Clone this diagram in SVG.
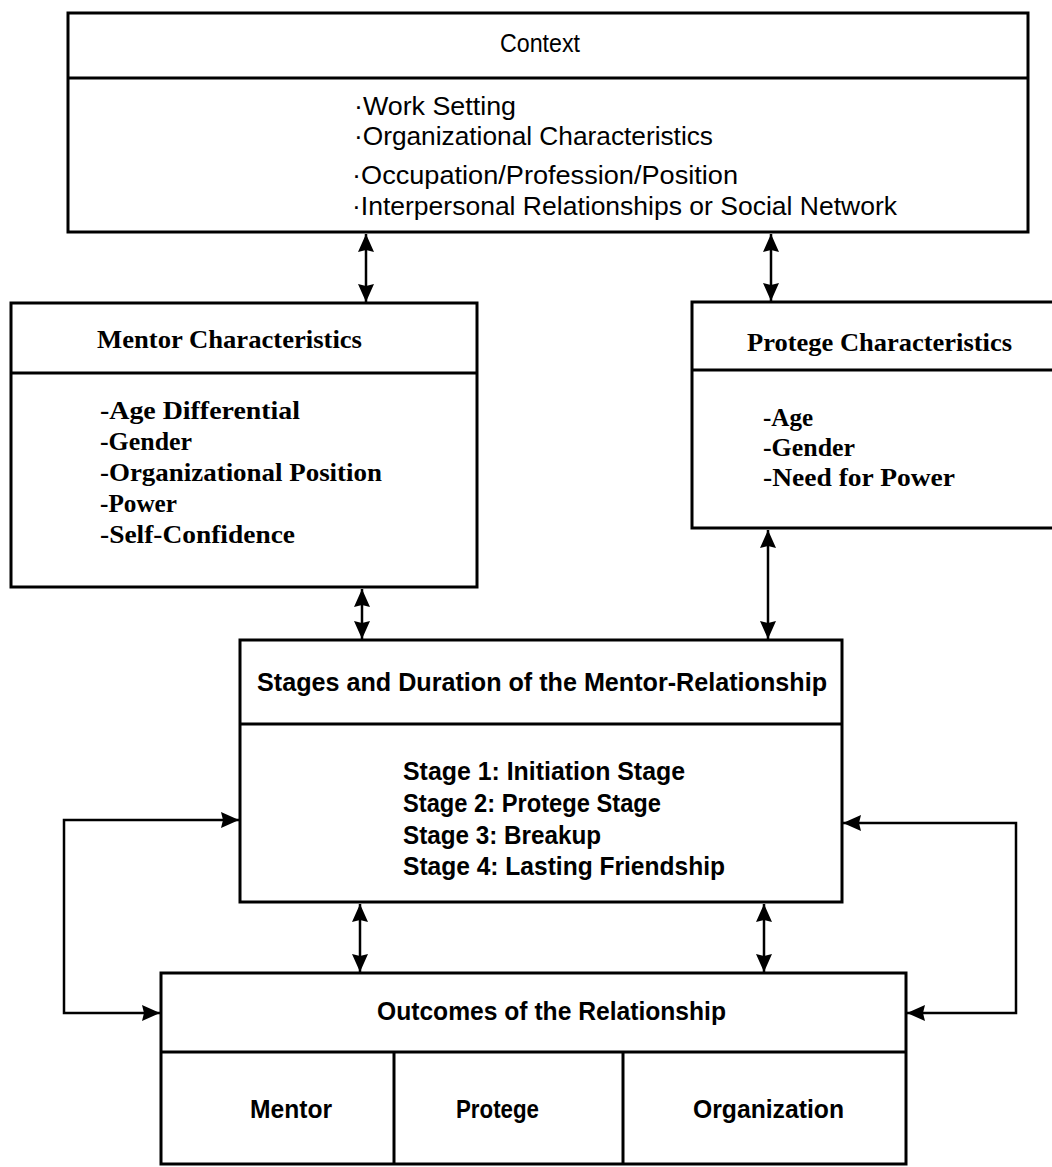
<svg xmlns="http://www.w3.org/2000/svg" width="1052" height="1167" viewBox="0 0 1052 1167">
<style>
.box{fill:none;stroke:#000;stroke-width:3}
.div{stroke:#000;stroke-width:3}
.con{fill:none;stroke:#000;stroke-width:2.5}
.sans{font-family:"Liberation Sans",Arial,sans-serif;font-size:25px;fill:#000}
.sb{font-weight:bold}
.serif{font-family:"Liberation Serif","Times New Roman",serif;font-size:25px;fill:#000;font-weight:bold}
</style>
<defs>
<marker id="ah" markerUnits="userSpaceOnUse" markerWidth="20" markerHeight="20" viewBox="0 0 20 20" refX="18" refY="10" orient="auto-start-reverse">
<path d="M0,2 L18,10 L0,18 L2,10 z" fill="#000"/>
</marker>
</defs>
<rect width="1052" height="1167" fill="#fff"/>

<g id="context">
<rect class="box" x="68" y="13" width="960" height="219"/>
<line class="div" x1="68" y1="78" x2="1028" y2="78"/>
<text class="sans" x="500" y="52" textLength="80" lengthAdjust="spacingAndGlyphs">Context</text>
<text class="sans" x="354" y="115" textLength="162" lengthAdjust="spacingAndGlyphs">·Work Setting</text>
<text class="sans" x="354" y="145" textLength="359" lengthAdjust="spacingAndGlyphs">·Organizational Characteristics</text>
<text class="sans" x="352" y="184" textLength="386" lengthAdjust="spacingAndGlyphs">·Occupation/Profession/Position</text>
<text class="sans" x="352" y="215" textLength="545" lengthAdjust="spacingAndGlyphs">·Interpersonal Relationships or Social Network</text>
</g>

<g id="mentor">
<rect class="box" x="11" y="303" width="466" height="284"/>
<line class="div" x1="11" y1="373" x2="477" y2="373"/>
<text class="serif" x="97" y="348" textLength="265" lengthAdjust="spacingAndGlyphs">Mentor Characteristics</text>
<text class="serif" x="100" y="419" textLength="200" lengthAdjust="spacingAndGlyphs">-Age Differential</text>
<text class="serif" x="100" y="450" textLength="92" lengthAdjust="spacingAndGlyphs">-Gender</text>
<text class="serif" x="100" y="481" textLength="282" lengthAdjust="spacingAndGlyphs">-Organizational Position</text>
<text class="serif" x="100" y="512" textLength="77" lengthAdjust="spacingAndGlyphs">-Power</text>
<text class="serif" x="100" y="543" textLength="195" lengthAdjust="spacingAndGlyphs">-Self-Confidence</text>
</g>

<g id="protege">
<path class="box" d="M1060,302 L692,302 L692,528 L1060,528"/>
<line class="div" x1="692" y1="370" x2="1060" y2="370"/>
<text class="serif" x="747" y="351" textLength="265" lengthAdjust="spacingAndGlyphs">Protege Characteristics</text>
<text class="serif" x="763" y="426" textLength="50" lengthAdjust="spacingAndGlyphs">-Age</text>
<text class="serif" x="763" y="456" textLength="92" lengthAdjust="spacingAndGlyphs">-Gender</text>
<text class="serif" x="763" y="486" textLength="192" lengthAdjust="spacingAndGlyphs">-Need for Power</text>
</g>

<g id="stages">
<rect class="box" x="240" y="640" width="602" height="262"/>
<line class="div" x1="240" y1="724" x2="842" y2="724"/>
<text class="sans sb" x="257" y="691" textLength="570" lengthAdjust="spacingAndGlyphs">Stages and Duration of the Mentor-Relationship</text>
<text class="sans sb" x="403" y="780" textLength="282" lengthAdjust="spacingAndGlyphs">Stage 1: Initiation Stage</text>
<text class="sans sb" x="403" y="812" textLength="258" lengthAdjust="spacingAndGlyphs">Stage 2: Protege Stage</text>
<text class="sans sb" x="403" y="844" textLength="198" lengthAdjust="spacingAndGlyphs">Stage 3: Breakup</text>
<text class="sans sb" x="403" y="875" textLength="322" lengthAdjust="spacingAndGlyphs">Stage 4: Lasting Friendship</text>
</g>

<g id="outcomes">
<rect class="box" x="161" y="973" width="745" height="191"/>
<line class="div" x1="161" y1="1052" x2="906" y2="1052"/>
<line class="div" x1="394" y1="1052" x2="394" y2="1164"/>
<line class="div" x1="623" y1="1052" x2="623" y2="1164"/>
<text class="sans sb" x="377" y="1020" textLength="349" lengthAdjust="spacingAndGlyphs">Outcomes of the Relationship</text>
<text class="sans sb" x="250" y="1118" textLength="82" lengthAdjust="spacingAndGlyphs">Mentor</text>
<text class="sans sb" x="456" y="1118" textLength="83" lengthAdjust="spacingAndGlyphs">Protege</text>
<text class="sans sb" x="693" y="1118" textLength="151" lengthAdjust="spacingAndGlyphs">Organization</text>
</g>

<g id="connectors">
<line class="con" x1="366" y1="234" x2="366" y2="302" marker-start="url(#ah)" marker-end="url(#ah)"/>
<line class="con" x1="771" y1="234" x2="771" y2="301" marker-start="url(#ah)" marker-end="url(#ah)"/>
<line class="con" x1="362" y1="589" x2="362" y2="639" marker-start="url(#ah)" marker-end="url(#ah)"/>
<line class="con" x1="768" y1="530" x2="768" y2="639" marker-start="url(#ah)" marker-end="url(#ah)"/>
<line class="con" x1="360" y1="904" x2="360" y2="972" marker-start="url(#ah)" marker-end="url(#ah)"/>
<line class="con" x1="764" y1="904" x2="764" y2="972" marker-start="url(#ah)" marker-end="url(#ah)"/>
<path class="con" d="M239,820 L64,820 L64,1013 L160,1013" marker-start="url(#ah)" marker-end="url(#ah)"/>
<path class="con" d="M843,823 L1016,823 L1016,1013 L907,1013" marker-start="url(#ah)" marker-end="url(#ah)"/>
</g>
</svg>
